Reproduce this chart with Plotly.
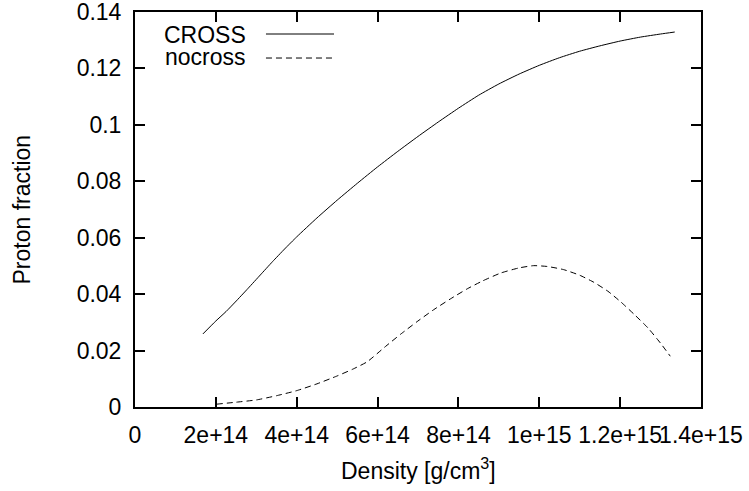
import plotly.graph_objects as go

# Data (density in g/cm^3, proton fraction)
cross_x = [1.68e14, 2.0e14, 2.25e14, 2.48e14, 2.8e14, 3.1e14, 3.4e14, 3.7e14, 4.0e14, 4.5e14,
           5.0e14, 5.5e14, 6.0e14, 6.5e14, 7.0e14, 7.5e14, 8.0e14, 8.5e14, 9.0e14, 9.5e14,
           1.0e15, 1.05e15, 1.1e15, 1.15e15, 1.2e15, 1.25e15, 1.3e15, 1.335e15]
cross_y = [0.0259, 0.0305, 0.0338, 0.0372, 0.0421, 0.0468, 0.0515, 0.0560, 0.0603, 0.0670,
           0.0733, 0.0793, 0.0851, 0.0906, 0.0959, 0.1010, 0.1059, 0.1105, 0.1145, 0.1180,
           0.1211, 0.1238, 0.1261, 0.1280, 0.1297, 0.1311, 0.1322, 0.1329]

nocross_x = [2.02e14, 2.5e14, 3.0e14, 3.5e14, 4.0e14, 4.5e14, 5.0e14, 5.4e14, 5.74e14, 6.2e14,
             6.57e14, 7.0e14, 7.39e14, 7.8e14, 8.22e14, 8.6e14, 9.05e14, 9.5e14, 9.86e14,
             1.02e15, 1.06e15, 1.10e15, 1.135e15, 1.17e15, 1.202e15, 1.235e15, 1.269e15,
             1.30e15, 1.324e15]
nocross_y = [0.0010, 0.0017, 0.0025, 0.0040, 0.0058, 0.0082, 0.0110, 0.0135, 0.0160, 0.0215,
             0.0258, 0.0305, 0.0345, 0.0383, 0.0419, 0.0447, 0.0475, 0.0493, 0.0501,
             0.0498, 0.0487, 0.0467, 0.0442, 0.0410, 0.0372, 0.0328, 0.0280,
             0.0226, 0.0180]

x_tickvals = [0, 2e14, 4e14, 6e14, 8e14, 1e15, 1.2e15, 1.4e15]
x_ticktext = ["0", "2e+14", "4e+14", "6e+14", "8e+14", "1e+15", "1.2e+15", "1.4e+15"]
y_tickvals = [0, 0.02, 0.04, 0.06, 0.08, 0.1, 0.12, 0.14]
y_ticktext = ["0", "0.02", "0.04", "0.06", "0.08", "0.1", "0.12", "0.14"]

FONT = "Liberation Sans, Arial, sans-serif"
FS = 23

fig = go.Figure()
fig.add_trace(go.Scatter(x=cross_x, y=cross_y, mode="lines", name="CROSS",
                         line=dict(color="black", width=1, shape="spline", smoothing=0.5),
                         showlegend=False))
fig.add_trace(go.Scatter(x=nocross_x, y=nocross_y, mode="lines", name="nocross",
                         line=dict(color="black", width=1, dash="6px,4px",
                                   shape="spline", smoothing=0.5),
                         showlegend=False))

axis_common = dict(showgrid=False, zeroline=False, showline=True, linecolor="black",
                   linewidth=2, mirror="ticks", ticks="inside", ticklen=10,
                   tickwidth=1.5, tickcolor="black", automargin=False,
                   ticklabeloverflow="allow",
                   tickfont=dict(family=FONT, size=FS, color="black"))

fig.update_layout(
    width=749, height=491,
    margin=dict(l=135, r=48, t=12, b=84),
    paper_bgcolor="white", plot_bgcolor="white",
    font=dict(family=FONT, size=FS, color="black"),
    xaxis=dict(range=[0, 1.4e15], tickvals=x_tickvals, ticktext=x_ticktext, tickangle=0,
               ticklabelstandoff=6, **axis_common),
    yaxis=dict(range=[0, 0.14], tickvals=y_tickvals, ticktext=y_ticktext,
               ticklabelstandoff=7, **axis_common),
    showlegend=False,
)

# Axis titles
fig.add_annotation(x=0.5, y=-0.157, xref="paper", yref="paper",
                   text="Density [g/cm<sup>3</sup>]", showarrow=False,
                   xanchor="center", yanchor="middle",
                   font=dict(family=FONT, size=FS, color="black"))
fig.add_annotation(x=-0.2014, y=0.5, xref="paper", yref="paper",
                   text="Proton fraction", showarrow=False, textangle=-90,
                   xanchor="center", yanchor="middle",
                   font=dict(family=FONT, size=FS, color="black"))

# Legend drawn gnuplot-style: right-justified label, sample line to its right
legend_items = [("CROSS", "solid", 0.9425, 0.9443), ("nocross", "6px,4px", 0.8866, 0.8835)]
for label, dash, ytxt, yline in legend_items:
    fig.add_annotation(x=0.198, y=ytxt, xref="paper", yref="paper", text=label,
                       showarrow=False, xanchor="right", yanchor="middle",
                       height=21, valign="middle", borderpad=0,
                       font=dict(family=FONT, size=FS, color="black"))
    fig.add_shape(type="line", xref="paper", yref="paper", x0=0.2314, x1=0.3516,
                  y0=yline, y1=yline, line=dict(color="black", width=1, dash=dash))

fig.write_html("out.html")
